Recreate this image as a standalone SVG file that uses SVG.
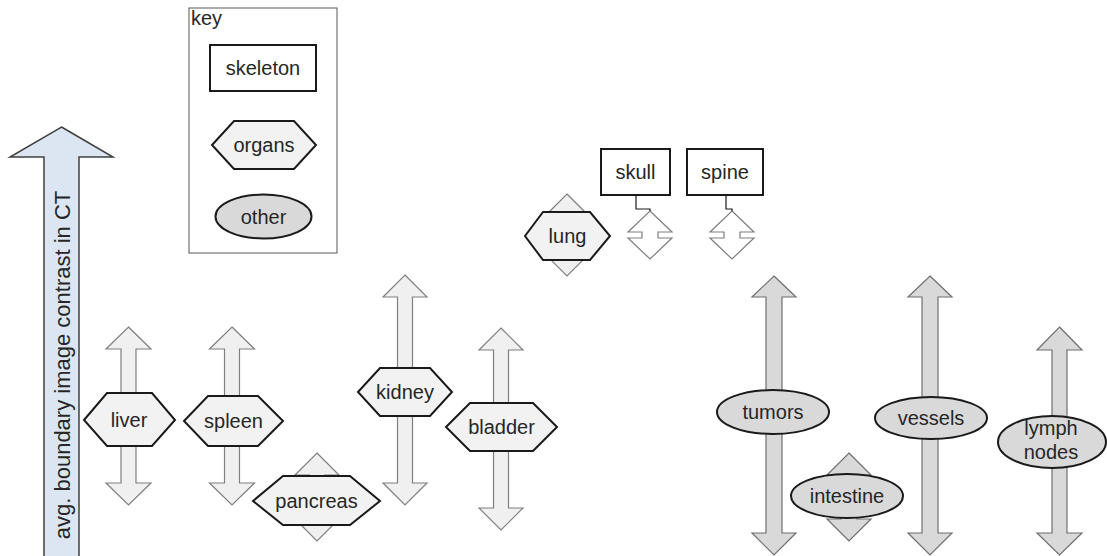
<svg xmlns="http://www.w3.org/2000/svg" width="1107" height="556" viewBox="0 0 1107 556">
  <style>
    .lbl { font-family: "Liberation Sans", Arial, sans-serif; font-size: 20px; fill: #262626; text-anchor: middle; }
    .arr-organ { fill: #f0f0f0; stroke: #7f7f7f; stroke-width: 1.2; }
    .arr-other { fill: #d9d9d9; stroke: #6f6f6f; stroke-width: 1.2; }
    .arr-skel { fill: #ffffff; stroke: #7f7f7f; stroke-width: 1.2; }
    .hex { fill: #f2f2f2; stroke: #1a1a1a; stroke-width: 2; }
    .ell { fill: #d9d9d9; stroke: #1a1a1a; stroke-width: 2; }
    .box { fill: #ffffff; stroke: #1a1a1a; stroke-width: 2; }
    .link { fill: none; stroke: #1a1a1a; stroke-width: 1.2; }
  </style>

  <rect width="1107" height="556" fill="#ffffff"/>

  <!-- vertical axis -->
  <g id="axis">
    <path d="M61.5,127 L113,157 L79,157 L79,560 L44,560 L44,157 L10,157 Z" fill="#dce6f2" stroke="#404040" stroke-width="1.5"/>
    <text class="lbl" transform="translate(69.5,365) rotate(-90)" style="font-size:22px">avg. boundary image contrast in CT</text>
  </g>

  <!-- legend -->
  <g id="key">
    <rect x="189" y="8" width="148" height="245" fill="#ffffff" stroke="#595959" stroke-width="1"/>
    <text class="lbl" x="191" y="25" style="text-anchor:start">key</text>
    <rect class="box" x="210" y="45" width="106" height="46"/>
    <text class="lbl" x="263" y="75">skeleton</text>
    <polygon class="hex" points="212,145 234,121 294,121 316,145 294,169 234,169"/>
    <text class="lbl" x="264" y="152">organs</text>
    <ellipse class="ell" cx="263.5" cy="216.5" rx="48" ry="22"/>
    <text class="lbl" x="263.5" y="223.5">other</text>
  </g>

  <!-- skeleton nodes -->
  <g id="skull">
    <path class="arr-skel" d="M650,211 L672,232 L658,232 L658,238 L672,238 L650,259 L628,238 L642,238 L642,232 L628,232 Z"/>
    <rect class="box" x="601" y="149" width="69" height="46"/>
    <text class="lbl" x="635.5" y="179">skull</text>
  </g>
  <g id="spine">
    <path class="arr-skel" d="M732,211 L754,232 L740,232 L740,238 L754,238 L732,259 L710,238 L724,238 L724,232 L710,232 Z"/>
    <rect class="box" x="687" y="149" width="76" height="46"/>
    <text class="lbl" x="725" y="179">spine</text>
  </g>

  <g id="connectors">
    <polyline class="link" points="636,195 636,209 650,209 650,211"/>
    <polyline class="link" points="726,195 726,209 732,209 732,211"/>
  </g>

  <!-- organ nodes -->
  <g id="liver">
    <path class="arr-organ" d="M128.5,327 L151,349 L136,349 L136,483 L151,483 L128.5,505 L106,483 L121,483 L121,349 L106,349 Z"/>
    <polygon class="hex" points="84,420 107,393 152,393 175,420 152,446 107,446"/>
    <text class="lbl" x="129" y="427">liver</text>
  </g>
  <g id="spleen">
    <path class="arr-organ" d="M232,327 L254.5,349 L239.5,349 L239.5,483 L254.5,483 L232,505 L209.5,483 L224.5,483 L224.5,349 L209.5,349 Z"/>
    <polygon class="hex" points="184,421 208,396 258,396 283,421 258,446 208,446"/>
    <text class="lbl" x="233.5" y="428">spleen</text>
  </g>
  <g id="pancreas">
    <path class="arr-organ" d="M317,453 L339,475 L324.5,475 L324.5,519 L339,519 L317,541 L295,519 L309.5,519 L309.5,475 L295,475 Z"/>
    <polygon class="hex" points="253,501 283,476 350,476 380,501 350,525 283,525"/>
    <text class="lbl" x="316.5" y="508">pancreas</text>
  </g>
  <g id="kidney">
    <path class="arr-organ" d="M405,275 L427,297 L412.5,297 L412.5,483 L427,483 L405,505 L383,483 L397.5,483 L397.5,297 L383,297 Z"/>
    <polygon class="hex" points="358,392 380,368 430,368 452,392 430,416 380,416"/>
    <text class="lbl" x="405" y="399">kidney</text>
  </g>
  <g id="bladder">
    <path class="arr-organ" d="M501,328 L523,350 L508.5,350 L508.5,508 L523,508 L501,530 L479,508 L493.5,508 L493.5,350 L479,350 Z"/>
    <polygon class="hex" points="446,427 470,403 533,403 557,427 533,451 470,451"/>
    <text class="lbl" x="501.5" y="434">bladder</text>
  </g>
  <g id="lung">
    <path class="arr-organ" d="M567,194 L589,216 L574.5,216 L574.5,254 L589,254 L567,276 L545,254 L559.5,254 L559.5,216 L545,216 Z"/>
    <polygon class="hex" points="525,236 543,212 590,212 610,236 590,260 543,260"/>
    <text class="lbl" x="567.5" y="243">lung</text>
  </g>

  <!-- other nodes -->
  <g id="tumors">
    <path class="arr-other" d="M774,276 L796,297 L782,297 L782,533 L796,533 L774,555 L752,533 L766,533 L766,297 L752,297 Z"/>
    <ellipse class="ell" cx="773" cy="412" rx="56" ry="22"/>
    <text class="lbl" x="773" y="419">tumors</text>
  </g>
  <g id="intestine">
    <path class="arr-other" d="M849,453 L871,475 L857,475 L857,519 L871,519 L849,541 L827,519 L841,519 L841,475 L827,475 Z"/>
    <ellipse class="ell" cx="847" cy="496" rx="56" ry="22"/>
    <text class="lbl" x="847" y="503">intestine</text>
  </g>
  <g id="vessels">
    <path class="arr-other" d="M930,276 L952,297 L938,297 L938,533 L952,533 L930,555 L908,533 L922,533 L922,297 L908,297 Z"/>
    <ellipse class="ell" cx="931" cy="418" rx="56" ry="21"/>
    <text class="lbl" x="931" y="425">vessels</text>
  </g>
  <g id="lymph-nodes">
    <path class="arr-other" d="M1059.5,327 L1082,350 L1067,350 L1067,533 L1082,533 L1059.5,555 L1037,533 L1052,533 L1052,350 L1037,350 Z"/>
    <ellipse class="ell" cx="1052" cy="442" rx="54" ry="26"/>
    <text class="lbl" x="1051" y="435">lymph</text>
    <text class="lbl" x="1051" y="459">nodes</text>
  </g>
</svg>
